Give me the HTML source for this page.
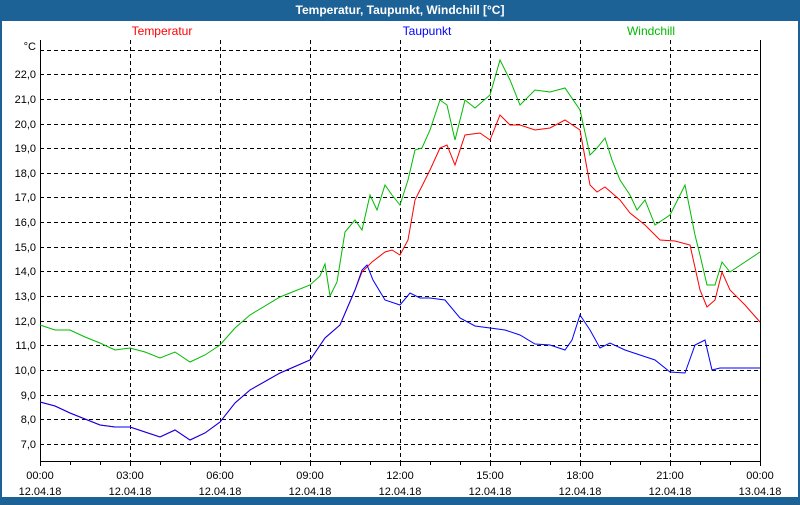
<!DOCTYPE html>
<html><head><style>
body{margin:0;width:800px;height:500px;overflow:hidden;background:#1d6296;font-family:"Liberation Sans",sans-serif}
</style></head><body>
<svg width="800" height="500" xmlns="http://www.w3.org/2000/svg" font-family="Liberation Sans, sans-serif" font-size="11">
<rect x="0" y="0" width="800" height="500" fill="#1d6296"/>
<rect x="2" y="21" width="796" height="476" fill="#fff"/>
<text x="400" y="14" fill="#fff" font-weight="bold" font-size="12" text-anchor="middle">Temperatur, Taupunkt, Windchill [°C]</text>
<g font-size="12">
<text x="162" y="35" fill="#f00" text-anchor="middle">Temperatur</text>
<text x="427" y="35" fill="#00f" text-anchor="middle">Taupunkt</text>
<text x="651" y="35" fill="#0b0" text-anchor="middle">Windchill</text>
</g>
<g stroke="#000" stroke-dasharray="4,3" stroke-width="1">
<path d="M40 50.5H760M40 74.5H760M40 99.5H760M40 124.5H760M40 148.5H760M40 173.5H760M40 197.5H760M40 222.5H760M40 247.5H760M40 271.5H760M40 296.5H760M40 321.5H760M40 345.5H760M40 370.5H760M40 395.5H760M40 419.5H760M40 444.5H760"/>
<path d="M130.5 40V461M220.5 40V461M310.5 40V461M400.5 40V461M490.5 40V461M580.5 40V461M670.5 40V461"/>
</g>
<path d="M40.5 40V461.5H760.5V40" fill="none" stroke="#000"/>
<g stroke="#000"><path d="M70.5 461v4M100.5 461v4M130.5 461v5M160.5 461v4M190.5 461v4M220.5 461v5M250.5 461v4M280.5 461v4M310.5 461v5M340.5 461v4M370.5 461v4M400.5 461v5M430.5 461v4M460.5 461v4M490.5 461v5M520.5 461v4M550.5 461v4M580.5 461v5M610.5 461v4M640.5 461v4M670.5 461v5M700.5 461v4M730.5 461v4M40.5 461v5M760.5 461v5"/></g>
<g text-anchor="end">
<text x="36" y="50">°C</text>
<text x="36" y="78">22,0</text><text x="36" y="103">21,0</text><text x="36" y="128">20,0</text><text x="36" y="152">19,0</text><text x="36" y="177">18,0</text><text x="36" y="201">17,0</text><text x="36" y="226">16,0</text><text x="36" y="251">15,0</text><text x="36" y="275">14,0</text><text x="36" y="300">13,0</text><text x="36" y="325">12,0</text><text x="36" y="349">11,0</text><text x="36" y="374">10,0</text><text x="36" y="399">9,0</text><text x="36" y="423">8,0</text><text x="36" y="448">7,0</text>
</g>
<g text-anchor="middle">
<text x="40" y="479">00:00</text><text x="40" y="495">12.04.18</text>
<text x="130" y="479">03:00</text><text x="130" y="495">12.04.18</text>
<text x="220" y="479">06:00</text><text x="220" y="495">12.04.18</text>
<text x="310" y="479">09:00</text><text x="310" y="495">12.04.18</text>
<text x="400" y="479">12:00</text><text x="400" y="495">12.04.18</text>
<text x="490" y="479">15:00</text><text x="490" y="495">12.04.18</text>
<text x="580" y="479">18:00</text><text x="580" y="495">12.04.18</text>
<text x="670" y="479">21:00</text><text x="670" y="495">12.04.18</text>
<text x="760" y="479">00:00</text><text x="760" y="495">13.04.18</text>
</g>
<g fill="none" stroke-width="1">
<polyline stroke="#0b0" points="40,325 55,330 70,330 85,337 100,343 115,350 130,348 145,352 160,358 175,352 190,362 205,355 220,345 235,328 250,315 280,297 310,285 320,276 325,264 330,296 337,282 345,232 355,220 362,230 370,195 377,210 385,185 392,195 400,205 408,180 415,150 422,148 430,130 440,100 447,105 455,140 465,100 475,108 490,95 500,60 510,80 520,105 535,90 550,92 565,88 580,110 590,155 597,148 605,138 612,160 620,180 630,195 637,210 645,200 655,225 670,215 685,185 695,235 700,255 707,285 715,285 722,262 730,272 745,262 760,252"/>
<polyline stroke="#f00" points="40,402 55,406 70,413 85,419 100,425 115,427 130,427 145,432 160,437 175,430 190,440 205,433 220,422 235,403 250,390 280,373 310,360 325,338 340,325 355,290 362,272 372,262 385,252 392,250 400,255 408,240 415,200 430,170 440,148 447,145 455,165 465,135 480,133 490,140 500,115 510,125 520,125 535,130 550,128 565,120 580,130 590,185 597,192 605,187 620,200 630,213 645,225 660,240 675,241 690,245 700,290 707,307 715,300 722,272 730,290 745,305 760,322"/>
<polyline stroke="#00f" points="40,402 55,406 70,413 85,419 100,425 115,427 130,427 145,432 160,437 175,430 190,440 205,433 220,422 235,403 250,390 280,373 310,360 325,338 340,325 355,290 362,270 367,265 373,280 385,300 400,305 410,293 420,298 430,298 445,300 460,318 475,326 490,328 505,330 520,335 535,344 550,345 565,350 572,340 580,315 590,330 600,348 610,343 625,350 640,355 655,360 670,372 685,373 695,345 705,340 712,370 720,368 740,368 760,368"/>
</g>
</svg>
</body></html>
